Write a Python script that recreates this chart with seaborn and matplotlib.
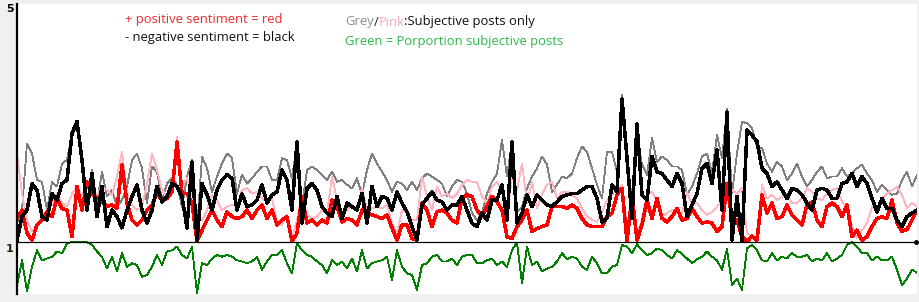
import numpy as np
import pandas as pd
import matplotlib
matplotlib.use("Agg")
import matplotlib.pyplot as plt
import seaborn as sns

# ---- data ----
negative_black = [
    1.03,1.43,1.54,1.99,1.88,1.43,1.37,1.82,1.71,1.99,2.05,2.84,3.04,2.39,1.54,2.16,1.43,1.94,1.26,1.54,1.43,1.24,1.54,1.77,1.97,1.54,
    1.32,1.54,1.94,1.68,1.77,1.99,1.94,1.77,1.24,2.36,1.03,1.99,1.80,1.54,1.88,2.05,2.14,2.08,1.54,1.82,1.60,1.63,1.71,1.97,1.66,1.80,
    1.85,2.22,2.05,1.54,2.70,1.32,1.91,1.99,1.88,1.60,1.49,1.43,1.77,1.40,1.66,1.60,1.54,1.82,1.32,1.94,1.60,1.77,1.74,1.54,1.85,1.66,
    1.51,1.26,1.03,1.63,1.74,1.85,1.71,1.68,1.54,1.63,1.63,1.77,1.54,1.32,1.26,1.49,1.37,1.71,1.71,1.97,1.37,2.70,1.32,1.49,1.80,1.60,
    1.80,1.71,1.63,1.60,1.68,1.77,1.80,1.82,1.82,1.88,1.94,1.94,1.74,1.34,1.40,1.97,1.85,3.43,2.42,1.40,3.00,1.80,1.71,2.45,2.19,2.16,
    2.05,1.94,2.16,1.99,1.43,1.63,1.82,2.25,2.33,1.99,2.56,1.54,3.20,1.03,1.77,1.01,2.90,2.81,2.70,2.25,2.16,1.94,2.02,1.88,1.74,1.91,
    1.88,1.80,1.66,1.54,1.88,1.91,1.88,1.74,1.74,1.99,2.02,2.16,1.94,2.11,1.99,1.74,1.51,1.74,1.57,1.57,1.37,1.26,1.43,1.49,1.54,
]
positive_red = [
    1.40,1.54,1.15,1.03,1.29,1.37,1.51,1.43,1.74,1.57,1.54,1.09,1.94,1.54,2.02,1.82,1.74,1.68,1.60,1.63,1.57,2.31,1.66,1.37,1.29,1.37,
    1.54,1.63,1.82,1.71,1.74,1.85,2.70,1.82,1.82,1.66,1.01,1.20,1.37,1.54,1.37,1.26,1.51,1.43,1.40,1.43,1.54,1.40,1.54,1.63,1.40,1.54,
    1.29,1.37,1.43,1.01,1.15,1.77,1.32,1.37,1.29,1.37,1.32,1.71,1.60,1.34,1.40,1.37,1.29,1.54,1.49,1.46,1.43,1.40,1.46,1.24,1.03,1.29,
    1.29,1.06,1.03,1.66,1.54,1.26,1.51,1.54,1.49,1.37,1.32,1.74,1.80,1.77,1.54,1.43,1.60,1.77,1.68,1.54,1.09,1.06,1.26,1.37,1.54,1.18,
    1.23,1.26,1.29,1.60,1.60,1.60,1.57,1.63,1.57,1.40,1.29,1.26,1.26,1.26,1.43,1.49,1.80,1.91,1.01,1.80,1.03,1.29,1.71,1.40,1.74,1.40,
    1.34,1.43,1.57,1.37,1.40,1.57,1.43,1.32,1.34,1.32,1.18,1.26,1.99,1.37,1.37,1.09,1.01,1.10,1.03,1.80,1.49,1.66,1.40,1.43,1.63,1.46,
    1.37,1.29,1.63,1.68,1.37,1.26,1.60,1.66,1.60,1.43,1.63,1.09,1.20,1.03,1.09,1.26,1.40,1.43,1.40,1.71,1.32,1.18,1.21,1.37,1.54,
]
subjective_pink = [
    2.50,1.82,1.37,1.18,1.26,1.43,1.54,1.63,1.82,1.66,1.60,1.82,1.94,1.77,2.02,1.85,1.80,1.94,1.88,1.80,2.11,2.53,1.82,1.63,1.54,1.60,
    1.99,2.50,2.22,1.88,1.77,1.88,2.79,1.94,2.08,1.82,1.43,1.37,1.54,1.80,1.71,1.54,1.60,1.63,1.60,1.88,1.91,1.82,1.85,1.74,1.68,1.74,
    1.34,1.29,1.46,1.06,1.37,1.80,1.46,1.40,1.43,1.54,1.49,2.11,1.71,1.49,1.54,1.63,1.54,1.91,1.54,1.57,1.60,1.57,1.63,1.32,1.15,1.54,
    1.51,1.37,1.37,2.11,1.77,1.54,1.94,1.77,1.82,1.74,1.82,1.97,2.05,2.02,2.02,1.77,1.66,1.94,2.02,1.88,1.43,2.11,1.88,2.33,1.66,2.02,
    1.57,1.80,1.97,2.02,1.74,1.85,1.85,1.80,1.74,1.57,1.43,1.38,1.34,1.51,1.71,1.80,1.88,1.97,1.29,1.68,1.09,1.40,1.80,1.85,1.68,1.43,
    1.49,1.54,1.51,1.49,1.85,1.63,1.66,1.54,1.46,1.51,1.60,1.71,2.02,1.88,1.82,1.91,1.15,1.09,1.06,1.97,1.74,1.80,1.71,1.77,1.80,1.66,
    1.66,1.74,1.91,1.85,1.74,1.71,1.82,1.88,1.91,1.68,1.60,1.26,1.06,1.20,1.32,1.60,1.54,1.74,1.82,1.88,1.93,1.80,1.57,1.66,1.60,
]
subjective_grey = [
    1.32,1.54,2.67,2.50,2.05,2.02,1.54,2.02,1.94,2.33,2.39,2.81,2.98,2.45,1.66,2.22,1.66,2.19,1.77,1.88,1.60,1.71,1.94,2.39,2.50,2.25,
    1.66,2.28,2.19,1.71,1.99,2.08,1.97,1.60,2.11,2.39,1.20,2.45,2.25,1.85,2.11,2.33,2.50,2.42,1.82,2.14,1.99,2.08,2.19,2.28,2.28,2.05,
    2.05,2.42,2.39,2.08,2.67,1.60,2.22,2.28,2.22,2.14,2.05,2.19,2.02,2.05,1.97,1.91,2.08,1.80,2.22,2.50,2.33,2.19,2.05,1.85,2.02,1.99,
    1.88,2.02,1.88,2.08,2.16,2.11,2.05,1.99,1.77,1.94,2.05,2.02,1.82,1.49,1.37,1.49,1.82,2.02,2.16,2.73,2.11,2.70,1.51,1.60,1.91,2.11,
    2.25,2.45,2.31,1.85,1.97,2.11,2.08,2.16,2.42,2.62,2.53,2.25,1.97,1.74,2.53,2.53,2.19,3.49,2.19,1.80,2.81,2.31,2.14,2.76,2.36,2.45,
    2.39,2.28,2.28,2.22,1.80,1.94,2.16,2.45,2.50,2.16,2.81,2.42,3.25,1.82,2.50,3.04,3.01,2.93,2.62,2.59,2.33,2.19,2.36,2.28,2.05,2.16,
    2.33,2.11,1.94,2.05,2.19,2.28,2.08,2.11,2.11,2.25,2.11,2.16,2.25,2.31,2.16,2.05,1.85,1.97,1.88,1.80,1.82,2.05,2.19,1.94,2.14,
]
proportion_green = [
    0.27,0.69,0.16,0.58,0.86,0.69,0.72,0.75,0.84,0.81,0.98,1.00,1.00,1.00,1.00,0.95,0.84,0.75,0.55,0.75,0.50,0.81,0.58,0.64,0.61,0.41,
    0.44,0.58,0.78,0.61,0.84,0.86,0.92,0.78,0.72,0.92,0.13,0.64,0.61,0.72,0.78,0.75,0.78,0.75,0.69,0.67,0.64,0.67,0.75,0.53,0.67,0.78,
    0.78,0.86,0.64,0.47,0.98,0.86,0.78,0.75,0.67,0.61,0.47,0.69,0.61,0.67,0.55,0.72,0.50,0.86,0.55,0.64,0.67,0.69,0.75,0.36,0.86,0.58,
    0.47,0.44,0.19,0.61,0.64,0.75,0.78,0.67,0.67,0.72,0.61,0.75,0.78,0.78,0.64,0.64,0.69,0.72,0.61,0.67,0.58,0.86,0.99,0.30,0.92,0.61,
    0.67,0.50,0.55,0.58,0.67,0.81,0.71,0.75,0.72,0.58,0.53,0.75,0.64,0.47,0.47,0.58,0.61,0.95,0.92,0.81,0.96,0.86,0.78,0.81,0.89,0.86,
    0.78,0.72,0.86,0.80,0.72,0.64,0.71,0.75,0.84,0.75,0.69,0.53,0.88,0.27,0.38,0.19,0.89,0.95,0.86,0.69,0.67,0.81,0.69,0.75,0.72,0.81,
    0.75,0.75,0.78,0.67,0.72,0.69,0.81,0.67,0.72,0.78,0.95,1.00,0.92,0.81,0.81,0.69,0.75,0.69,0.69,0.75,0.53,0.27,0.38,0.53,0.48,
]
y_tick_labels = ["1", "5"]

posts = np.arange(len(negative_black))
df = pd.DataFrame({
    "post": posts,
    "grey": subjective_grey,
    "pink": subjective_pink,
    "red": positive_red,
    "black": negative_black,
    "green": proportion_green,
})

W, H = 919, 302
fig = plt.figure(figsize=(W / 100, H / 100), dpi=100, facecolor="#f0f0f0")
ax = fig.add_axes([17 / W, 8 / H, 900 / W, 290 / H])
ax.set_facecolor("white")

styles = [
    ("green", "#008000", 0.6),
    ("grey", "#808080", 0.6),
    ("pink", "#ffb6c1", 0.6),
    ("red", "#ff0000", 1.8),
    ("black", "#000000", 1.8),
]
for col, color, lw in styles:
    sns.lineplot(data=df, x="post", y=col, color=color, linewidth=lw,
                 estimator=None, ax=ax, antialiased=False)

ax.axhline(1.0, color="black", linewidth=0.9, zorder=5)
ax.plot([posts[-1] - 0.3], [1.0], marker="o", markersize=2.5, color="black", zorder=6, clip_on=False)

ax.set_xlim(0, posts[-1])
ax.set_ylim((301 - 294) / 59, (301 - 4) / 59)
ax.set_xticks([])
ax.set_yticks([])
ax.set_xlabel("")
ax.set_ylabel("")
for s in ["top", "right", "bottom"]:
    ax.spines[s].set_visible(False)
ax.spines["left"].set_linewidth(1.6)
ax.spines["left"].set_color("black")

# y labels
fig.text(10 / W, 1 - 9 / H, y_tick_labels[1], fontsize=8, fontweight="bold", ha="center", va="center",
         family="DejaVu Sans")
fig.text(10 / W, 1 - 249 / H, y_tick_labels[0], fontsize=8, fontweight="bold", ha="center", va="center",
         color="#222200", family="DejaVu Sans")

renderer = fig.canvas.get_renderer()
FONT = "Open Sans"
FS = 9.4


def put(parts, x_px, y_px):
    x = x_px
    for s, c in parts:
        t = fig.text(x / W, 1 - y_px / H, s, color=c, fontsize=FS, ha="left", va="center", family=FONT)
        bb = t.get_window_extent(renderer)
        x += bb.width


put([("+ positive sentiment = red", "#ee2a2a")], 125, 19)
put([("- negative sentiment = black", "#111111")], 125, 37)
put([("Grey", "#8c8c8c"), ("/", "#222222"), ("Pink", "#f4aac4"), (":Subjective posts only", "#111111")], 345, 22)
put([("Green = Porportion subjective posts", "#2db84a")], 345, 41)

fig.savefig("out.png", dpi=100, facecolor=fig.get_facecolor())
